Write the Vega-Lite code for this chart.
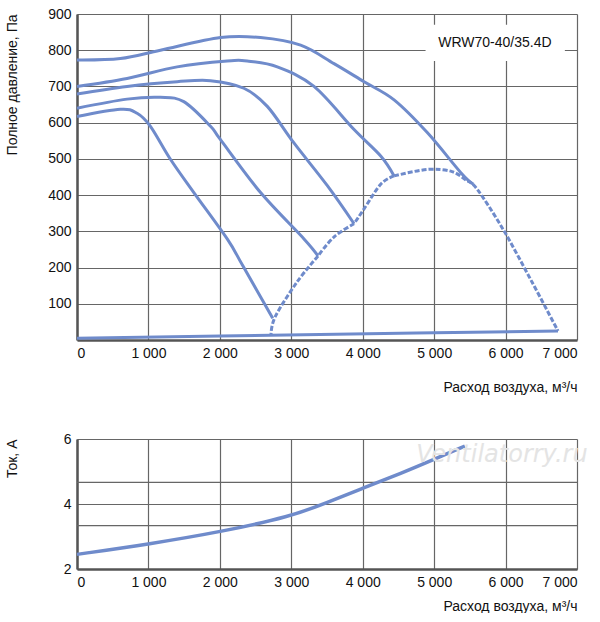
{
  "$schema": "https://vega.github.io/schema/vega-lite/v6.json",
  "padding": {"left": 4, "top": 7, "right": 5, "bottom": 0},
  "spacing": 99,
  "bounds": "flush",
  "config": {
    "view": {"stroke": null},
    "font": "Liberation Sans",
    "axis": {
      "labelFont": "Liberation Sans", "titleFont": "Liberation Sans",
      "labelFontSize": 14, "titleFontSize": 14, "labelColor": "#111", "titleColor": "#111",
      "titleFontWeight": "normal", "gridColor": "#666", "gridOpacity": 1, "gridWidth": 1.2,
      "domainColor": "#555", "domainWidth": 2.5, "ticks": false, "labelPadding": 6
    }
  },
  "datasets": {
    "pressure": [
      {"s": "A", "o": 0, "x": 0, "y": 773}, {"s": "A", "o": 1, "x": 607, "y": 777}, {"s": "A", "o": 2, "x": 1168, "y": 800},
      {"s": "A", "o": 3, "x": 2009, "y": 835}, {"s": "A", "o": 4, "x": 2570, "y": 835}, {"s": "A", "o": 5, "x": 3131, "y": 814},
      {"s": "A", "o": 6, "x": 3598, "y": 763}, {"s": "A", "o": 7, "x": 4019, "y": 713}, {"s": "A", "o": 8, "x": 4439, "y": 663},
      {"s": "A", "o": 9, "x": 4907, "y": 572}, {"s": "A", "o": 10, "x": 5374, "y": 462}, {"s": "A", "o": 11, "x": 5550, "y": 430},
      {"s": "B", "o": 0, "x": 0, "y": 700}, {"s": "B", "o": 1, "x": 701, "y": 722}, {"s": "B", "o": 2, "x": 1402, "y": 754},
      {"s": "B", "o": 3, "x": 2103, "y": 770}, {"s": "B", "o": 4, "x": 2383, "y": 770}, {"s": "B", "o": 5, "x": 2804, "y": 754},
      {"s": "B", "o": 6, "x": 3318, "y": 700}, {"s": "B", "o": 7, "x": 3879, "y": 581}, {"s": "B", "o": 8, "x": 4252, "y": 508},
      {"s": "B", "o": 9, "x": 4439, "y": 453},
      {"s": "C", "o": 0, "x": 0, "y": 679}, {"s": "C", "o": 1, "x": 701, "y": 700}, {"s": "C", "o": 2, "x": 1402, "y": 713},
      {"s": "C", "o": 3, "x": 1869, "y": 716}, {"s": "C", "o": 4, "x": 2336, "y": 695}, {"s": "C", "o": 5, "x": 2664, "y": 645},
      {"s": "C", "o": 6, "x": 3037, "y": 544}, {"s": "C", "o": 7, "x": 3505, "y": 426}, {"s": "C", "o": 8, "x": 3879, "y": 321},
      {"s": "D", "o": 0, "x": 0, "y": 640}, {"s": "D", "o": 1, "x": 701, "y": 665}, {"s": "D", "o": 2, "x": 1168, "y": 670},
      {"s": "D", "o": 3, "x": 1495, "y": 658}, {"s": "D", "o": 4, "x": 1869, "y": 590}, {"s": "D", "o": 5, "x": 2009, "y": 553},
      {"s": "D", "o": 6, "x": 2570, "y": 407}, {"s": "D", "o": 7, "x": 3178, "y": 279}, {"s": "D", "o": 8, "x": 3374, "y": 232},
      {"s": "E", "o": 0, "x": 0, "y": 617}, {"s": "E", "o": 1, "x": 607, "y": 637}, {"s": "E", "o": 2, "x": 841, "y": 626},
      {"s": "E", "o": 3, "x": 1028, "y": 590}, {"s": "E", "o": 4, "x": 1308, "y": 499}, {"s": "E", "o": 5, "x": 1636, "y": 407},
      {"s": "E", "o": 6, "x": 2103, "y": 279}, {"s": "E", "o": 7, "x": 2324, "y": 204}, {"s": "E", "o": 8, "x": 2740, "y": 60},
      {"s": "F", "o": 0, "x": 0, "y": 5}, {"s": "F", "o": 1, "x": 3400, "y": 15}, {"s": "F", "o": 2, "x": 6734, "y": 25}
    ],
    "envelope": [
      {"s": "e1", "o": 0, "x": 4439, "y": 453}, {"s": "e1", "o": 1, "x": 4907, "y": 471}, {"s": "e1", "o": 2, "x": 5250, "y": 465}, {"s": "e1", "o": 3, "x": 5460, "y": 439},
      {"s": "e2", "o": 0, "x": 4439, "y": 453}, {"s": "e2", "o": 1, "x": 4252, "y": 430}, {"s": "e2", "o": 2, "x": 4019, "y": 362}, {"s": "e2", "o": 3, "x": 3879, "y": 321},
      {"s": "e3", "o": 0, "x": 3879, "y": 321}, {"s": "e3", "o": 1, "x": 3600, "y": 285}, {"s": "e3", "o": 2, "x": 3374, "y": 232},
      {"s": "e4", "o": 0, "x": 3374, "y": 232}, {"s": "e4", "o": 1, "x": 3080, "y": 160}, {"s": "e4", "o": 2, "x": 2772, "y": 63}, {"s": "e4", "o": 3, "x": 2716, "y": 11},
      {"s": "e5", "o": 0, "x": 5460, "y": 439}, {"s": "e5", "o": 1, "x": 5600, "y": 417}, {"s": "e5", "o": 2, "x": 5964, "y": 306}, {"s": "e5", "o": 3, "x": 6370, "y": 160}, {"s": "e5", "o": 4, "x": 6734, "y": 25}
    ],
    "current": [
      {"x": 0, "a": 2.45}, {"x": 1017, "a": 2.77}, {"x": 2033, "a": 3.15}, {"x": 2996, "a": 3.62},
      {"x": 3478, "a": 4.02}, {"x": 4013, "a": 4.5}, {"x": 4548, "a": 4.95}, {"x": 4976, "a": 5.35}, {"x": 5430, "a": 5.78}
    ],
    "label": [{"x1": 4880, "x2": 6830, "y1": 770, "y2": 870, "xt": 5850, "yt": 820, "t": "WRW70-40/35.4D"}],
    "grid2": [{"g": 3.333}, {"g": 4.667}],
    "mark": [{"x": 5950, "a": 5.5, "t": "Ventilatorry.ru"}]
  },
  "vconcat": [
    {
      "width": 500,
      "height": 326,
      "layer": [
        {
          "data": {"name": "pressure"},
          "mark": {"type": "line", "color": "#6f8bcb", "strokeWidth": 3, "interpolate": "cardinal"},
          "encoding": {
            "x": {"field": "x", "type": "quantitative", "scale": {"domain": [0, 7000], "nice": false},
              "axis": {"values": [0, 1000, 2000, 3000, 4000, 5000, 6000, 7000], "labelExpr": "replace(format(datum.value, ','), ',', ' ')",
                "title": "Расход воздуха, м³/ч", "titleAnchor": "end", "titleAlign": "right", "titlePadding": 20}},
            "y": {"field": "y", "type": "quantitative", "scale": {"domain": [0, 900], "nice": false},
              "axis": {"values": [100, 200, 300, 400, 500, 600, 700, 800, 900], "title": "Полное давление, Па",
                "titleAnchor": "end", "titleX": -65, "titleY": 0, "titleAlign": "right", "titleBaseline": "middle", "titleAngle": -90}},
            "detail": {"field": "s"},
            "order": {"field": "o"}
          }
        },
        {
          "data": {"name": "envelope"},
          "mark": {"type": "line", "color": "#6f8bcb", "strokeWidth": 3, "strokeDash": [5, 2], "interpolate": "cardinal"},
          "encoding": {
            "x": {"field": "x", "type": "quantitative"},
            "y": {"field": "y", "type": "quantitative"},
            "detail": {"field": "s"},
            "order": {"field": "o"}
          }
        },
        {
          "data": {"name": "label"},
          "mark": {"type": "rect", "color": "white"},
          "encoding": {
            "x": {"field": "x1", "type": "quantitative"}, "x2": {"field": "x2"},
            "y": {"field": "y1", "type": "quantitative"}, "y2": {"field": "y2"}
          }
        },
        {
          "data": {"name": "label"},
          "mark": {"type": "text", "fontSize": 14, "color": "#111", "font": "Liberation Sans"},
          "encoding": {
            "x": {"field": "xt", "type": "quantitative"},
            "y": {"field": "yt", "type": "quantitative"},
            "text": {"field": "t"}
          }
        }
      ]
    },
    {
      "width": 500,
      "height": 130,
      "layer": [
        {
          "data": {"name": "grid2"},
          "mark": {"type": "rule", "color": "#666", "strokeWidth": 1.2},
          "encoding": {"y": {"field": "g", "type": "quantitative", "scale": {"domain": [2, 6], "nice": false, "zero": false}}}
        },
        {
          "data": {"name": "current"},
          "mark": {"type": "line", "color": "#6f8bcb", "strokeWidth": 3.5, "interpolate": "basis"},
          "encoding": {
            "x": {"field": "x", "type": "quantitative", "scale": {"domain": [0, 7000], "nice": false},
              "axis": {"values": [0, 1000, 2000, 3000, 4000, 5000, 6000, 7000], "labelExpr": "replace(format(datum.value, ','), ',', ' ')",
                "title": "Расход воздуха, м³/ч", "titleAnchor": "end", "titleAlign": "right", "titlePadding": 10}},
            "y": {"field": "a", "type": "quantitative", "scale": {"domain": [2, 6], "nice": false, "zero": false},
              "axis": {"values": [2, 4, 6], "title": "Ток, А", "titleAnchor": "end", "titleX": -65, "titleY": 0,
                "titleAlign": "right", "titleBaseline": "middle", "titleAngle": -90}}
          }
        },
        {
          "data": {"name": "mark"},
          "mark": {"type": "text", "fontSize": 24, "fontStyle": "italic", "color": "#e4e4e4", "font": "DejaVu Sans"},
          "encoding": {
            "x": {"field": "x", "type": "quantitative"},
            "y": {"field": "a", "type": "quantitative"},
            "text": {"field": "t"}
          }
        }
      ]
    }
  ]
}
